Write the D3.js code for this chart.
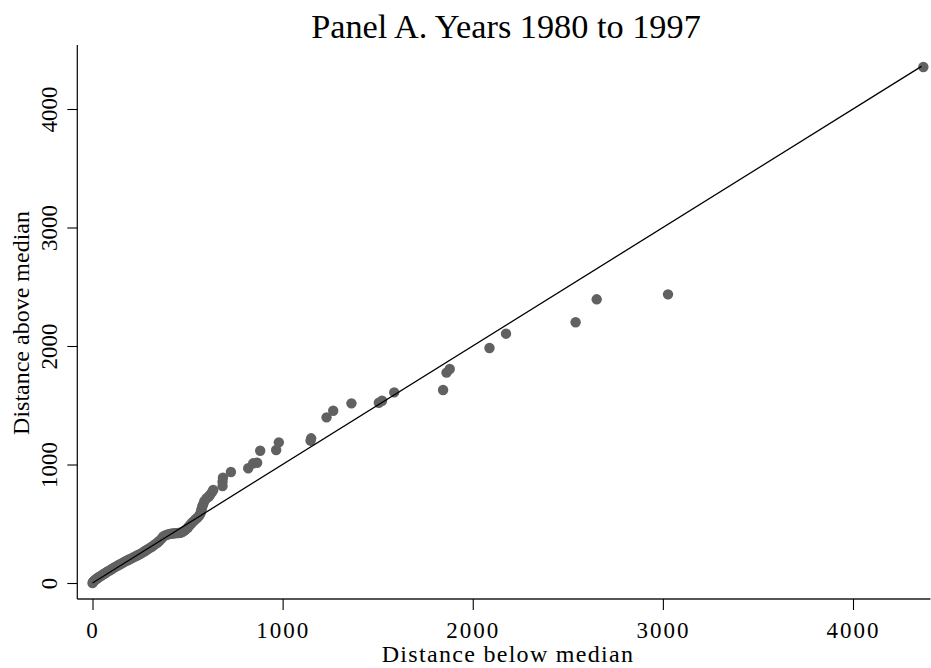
<!DOCTYPE html>
<html>
<head>
<meta charset="utf-8">
<script src="https://cdn.jsdelivr.net/npm/d3@7"></script>
<style>
  html, body { margin: 0; padding: 0; background: #fff; }
  svg { display: block; }
  text { font-family: "Liberation Serif", "Times New Roman", serif; fill: #000; }
</style>
</head>
<body>
<svg id="chart" width="931" height="668"></svg>
<script>
const titleText = "Panel A. Years 1980 to 1997";
const xTitle = "Distance below median";
const yTitle = "Distance above median";
const xTicks = [0, 1000, 2000, 3000, 4000];
const yTicks = [0, 1000, 2000, 3000, 4000];

const belowMedian = [0,3,6,10,14,18,22,27,32,38,44,50,57,64,71,78,86,94,102,110,
  118,127,136,145,154,163,172,182,192,202,212,222,232,242,252,262,272,282,292,302,
  312,322,332,342,352,362,372,382,392,402,412,422,432,442,452,462,472,482,492,502,
  512,522,532,542,552,560,566,570,572,575,578,582,588,600,612,618,628,635,684,684,
  686,728,819,845,866,882,966,980,1147,1150,1231,1266,1362,1506,1523,1587,1844,1862,1879,2088,
  2175,2541,2652,3027,4370];
const aboveMedian = [0,8,14,20,26,30,36,42,48,54,60,66,74,80,88,96,102,110,118,126,
  134,142,150,158,166,174,182,190,198,206,214,222,230,238,246,256,266,276,286,296,
  306,318,330,342,356,372,392,402,408,412,416,418,420,421,422,424,430,440,452,468,
  488,506,522,538,552,566,580,596,612,630,648,664,690,715,730,743,765,785,818,855,
  889,937,968,1010,1015,1116,1122,1187,1201,1221,1398,1454,1516,1521,1538,1609,1629,1775,1806,1983,
  2104,2200,2394,2436,4354];
const refLine = [0, 4360];
const xExtent = [-80, 4407];
const yExtent = [-135, 4540];

const svg = d3.select("#chart");
svg.append("rect").attr("width", 931).attr("height", 668).attr("fill", "#fff");

const x = d3.scaleLinear().domain([0, 4000]).range([92.5, 853]);
const y = d3.scaleLinear().domain([0, 4000]).range([583, 109]);

const points = belowMedian.map((v, i) => ({x: v, y: aboveMedian[i]}));

// axis lines
svg.append("line")
  .attr("x1", x(xExtent[0])).attr("x2", x(xExtent[1]))
  .attr("y1", y(yExtent[0])).attr("y2", y(yExtent[0]))
  .attr("stroke", "#555").attr("stroke-width", 2);
svg.append("line")
  .attr("x1", x(xExtent[0])).attr("x2", x(xExtent[0]))
  .attr("y1", y(yExtent[0])).attr("y2", y(yExtent[1]))
  .attr("stroke", "#000").attr("stroke-width", 1.2);

// x axis
const gx = svg.append("g")
  .attr("transform", `translate(0,${y(yExtent[0])})`)
  .call(d3.axisBottom(x).tickValues(xTicks).tickFormat(d3.format("d")).tickSize(11).tickSizeOuter(0));
gx.select(".domain").remove();
gx.selectAll(".tick line").attr("stroke", "#000").attr("stroke-width", 1.1);
gx.selectAll(".tick text")
  .attr("y", 39).attr("dy", 0)
  .attr("font-size", 23).attr("letter-spacing", "2px")
  .attr("font-family", "Liberation Serif").attr("fill", "#000");

// y axis
const gy = svg.append("g")
  .attr("transform", `translate(${x(xExtent[0])},0)`)
  .call(d3.axisLeft(y).tickValues(yTicks).tickFormat(d3.format("d")).tickSize(10).tickSizeOuter(0));
gy.select(".domain").remove();
gy.selectAll(".tick line").attr("stroke", "#000").attr("stroke-width", 1.1);
gy.selectAll(".tick text")
  .attr("x", 0).attr("y", -20).attr("dy", 0).attr("dx", 0)
  .attr("transform", "rotate(-90)")
  .attr("text-anchor", "middle")
  .attr("font-size", 23)
  .attr("font-family", "Liberation Serif").attr("fill", "#000");

// points
svg.append("g").selectAll("circle").data(points).join("circle")
  .attr("cx", d => x(d.x)).attr("cy", d => y(d.y))
  .attr("r", 5.2).attr("fill", "#616161");

// 45-degree reference line
svg.append("line")
  .attr("x1", x(refLine[0])).attr("y1", y(refLine[0]))
  .attr("x2", x(refLine[1])).attr("y2", y(refLine[1]))
  .attr("stroke", "#000").attr("stroke-width", 1.3);

// titles
svg.append("text").attr("x", 506).attr("y", 38)
  .attr("text-anchor", "middle").attr("font-size", 34.3).text(titleText);
svg.append("text").attr("x", 508).attr("y", 662)
  .attr("text-anchor", "middle").attr("font-size", 24).attr("letter-spacing", "1.3px").text(xTitle);
svg.append("text").attr("transform", "translate(29,323) rotate(-90)")
  .attr("text-anchor", "middle").attr("font-size", 24).text(yTitle);
</script>
</body>
</html>
